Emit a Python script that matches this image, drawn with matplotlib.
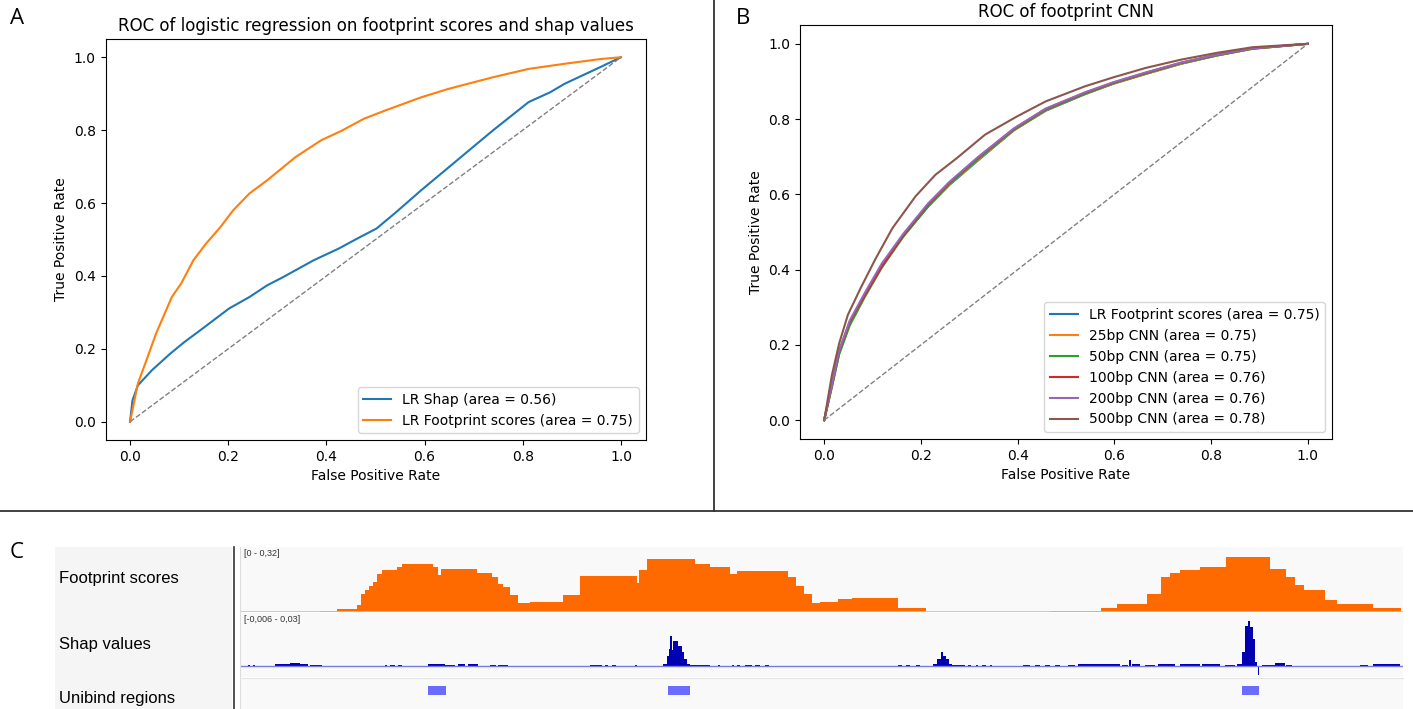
import numpy as np
import matplotlib
matplotlib.use('Agg')
from matplotlib import pyplot as plt
from matplotlib.patches import Rectangle
from matplotlib.lines import Line2D

# ---- panel A: logistic regression ROC
fpr_shap = [0, 0.005, 0.016, 0.045, 0.082, 0.111, 0.148, 0.202, 0.243, 0.279, 0.312, 0.374,
            0.425, 0.469, 0.502, 0.542, 0.593, 0.666, 0.739, 0.812, 0.856, 0.885, 0.958, 1.0]
tpr_shap = [0, 0.059, 0.100, 0.142, 0.187, 0.219, 0.256, 0.311, 0.342, 0.374, 0.397, 0.443,
            0.475, 0.507, 0.530, 0.575, 0.635, 0.717, 0.799, 0.877, 0.904, 0.927, 0.973, 1.0]
fpr_fp = [0, 0.016, 0.031, 0.053, 0.085, 0.104, 0.129, 0.155, 0.184, 0.210, 0.243, 0.279,
          0.337, 0.389, 0.432, 0.476, 0.520, 0.593, 0.648, 0.739, 0.812, 0.885, 0.958, 1.0]
tpr_fp = [0, 0.105, 0.160, 0.242, 0.342, 0.379, 0.443, 0.489, 0.534, 0.580, 0.626, 0.662,
          0.726, 0.772, 0.799, 0.831, 0.854, 0.890, 0.913, 0.945, 0.968, 0.982, 0.995, 1.0]
labels_a = ['LR Shap (area = 0.56)', 'LR Footprint scores (area = 0.75)']

# ---- panel B: CNN ROC
fpr_cnn = [0, 0.016, 0.031, 0.053, 0.083, 0.119, 0.164, 0.215, 0.259, 0.318, 0.392, 0.458,
           0.539, 0.598, 0.665, 0.738, 0.812, 0.886, 1.0]
tpr_lr = [0, 0.090, 0.178, 0.258, 0.330, 0.410, 0.490, 0.568, 0.625, 0.690, 0.770, 0.822,
          0.866, 0.894, 0.920, 0.947, 0.969, 0.987, 1.0]
tpr_25 = [0, 0.092, 0.180, 0.259, 0.331, 0.411, 0.490, 0.570, 0.626, 0.692, 0.770, 0.823,
          0.867, 0.894, 0.920, 0.947, 0.969, 0.987, 1.0]
tpr_50 = [0, 0.088, 0.175, 0.252, 0.325, 0.405, 0.488, 0.568, 0.627, 0.694, 0.771, 0.824,
          0.867, 0.895, 0.921, 0.948, 0.969, 0.987, 1.0]
tpr_100 = [0, 0.095, 0.184, 0.262, 0.330, 0.408, 0.492, 0.574, 0.632, 0.698, 0.774, 0.827,
           0.870, 0.897, 0.923, 0.950, 0.971, 0.988, 1.0]
tpr_200 = [0, 0.095, 0.185, 0.265, 0.336, 0.416, 0.496, 0.576, 0.633, 0.699, 0.775, 0.828,
           0.871, 0.898, 0.924, 0.950, 0.971, 0.988, 1.0]
fpr_500 = [0, 0.016, 0.031, 0.049, 0.075, 0.105, 0.141, 0.189, 0.230, 0.274, 0.333, 0.400,
           0.458, 0.539, 0.598, 0.665, 0.738, 0.812, 0.886, 1.0]
tpr_500 = [0, 0.120, 0.204, 0.280, 0.350, 0.426, 0.510, 0.595, 0.652, 0.696, 0.759, 0.808,
           0.847, 0.887, 0.911, 0.936, 0.958, 0.976, 0.991, 1.0]
labels_b = ['LR Footprint scores (area = 0.75)', '25bp CNN (area = 0.75)', '50bp CNN (area = 0.75)',
            '100bp CNN (area = 0.76)', '200bp CNN (area = 0.76)', '500bp CNN (area = 0.78)']

# ---- panel C: genome browser tracks (track position 0..1163)
fp_start = [0, 80, 97, 117, 121, 125, 129, 133, 137, 142, 157, 162, 193, 198, 201, 237, 252, 258,
            263, 270, 278, 290, 323, 340, 397, 399, 407, 455, 470, 490, 497, 548, 556, 564, 572,
            580, 598, 612, 658, 686, 810, 861, 877, 907, 921, 930, 940, 960, 986, 1030, 1046,
            1055, 1064, 1085, 1097, 1133, 1161, 1163]
fp_value = [0, 0.005, 0.016, 0.033, 0.090, 0.107, 0.128, 0.148, 0.189, 0.208, 0.222, 0.235, 0.222,
            0.181, 0.210, 0.194, 0.172, 0.139, 0.123, 0.082, 0.044, 0.049, 0.082, 0.177, 0.143,
            0.205, 0.259, 0.238, 0.222, 0.189, 0.200, 0.170, 0.130, 0.090, 0.045, 0.049, 0.066,
            0.071, 0.021, 0, 0.005, 0.020, 0.041, 0.090, 0.172, 0.190, 0.208, 0.222, 0.271, 0.213,
            0.172, 0.131, 0.107, 0.057, 0.038, 0.021, 0, 0]

shap_start = [8, 13, 20, 35, 50, 60, 70, 145, 150, 158, 188, 205, 218, 228, 250, 258, 350, 365, 372,
              395, 423, 427, 429, 430, 431.5, 433, 438, 442, 444, 447, 450, 478, 492, 497, 505, 515,
              525, 658, 666, 676, 693, 697, 701, 702.5, 706, 709, 712, 728, 736, 742, 750, 783, 795,
              805, 815, 828, 838, 882, 889, 892, 905, 918, 940, 962, 985, 997, 1000, 1002, 1005,
              1007.5, 1010, 1012.5, 1014.5, 1017.5, 1022, 1035, 1046, 1120, 1133]
shap_end = [10, 15, 21, 50, 60, 68, 82, 147, 155, 162, 205, 215, 225, 238, 256, 268, 362, 368, 376,
            397, 427, 429, 430, 431.5, 433, 438, 442, 444, 447, 450, 470, 480, 494, 500, 512, 520,
            529, 662, 670, 680, 697, 701, 702.5, 706, 709, 712, 725, 731, 738, 746, 752, 790, 800,
            810, 820, 835, 880, 888, 891, 900, 915, 935, 960, 980, 995, 1000, 1002, 1005, 1007.5,
            1010, 1012.5, 1014.5, 1016.5, 1019, 1035, 1045, 1052, 1128, 1160]
shap_value = [0.0006, 0.0006, 0.0004, 0.0012, 0.0018, 0.0012, 0.0010, 0.0008, 0.0008, 0.0006,
              0.0015, 0.0010, 0.0015, 0.0012, 0.0008, 0.0008, 0.0010, 0.0008, 0.0008, 0.0008,
              0.0015, 0.0060, 0.0099, 0.0173, 0.0090, 0.0145, 0.0117, 0.0080, 0.0043, 0.0015,
              0.0010, 0.0005, 0.0005, 0.0006, 0.0008, 0.0008, 0.0008, 0.0005, 0.0005, 0.0008,
              0.0015, 0.0043, 0.0080, 0.0058, 0.0040, 0.0015, 0.0010, 0.0006, 0.0006, 0.0006,
              0.0005, 0.0008, 0.0008, 0.0008, 0.0008, 0.0010, 0.0015, 0.0010, 0.0035, 0.0012,
              0.0010, 0.0012, 0.0015, 0.0012, 0.0010, 0.0015, 0.0015, 0.0080, 0.0229, 0.0257,
              0.0220, 0.0155, 0.0024, -0.0047, 0.0010, 0.0018, 0.0010, 0.0008, 0.0012]

unibind_start = [188, 428, 1002]
unibind_end = [206, 450, 1019]

track_names = ['Footprint scores', 'Shap values', 'Unibind regions']
fp_range = '[0 - 0,32]'
shap_range = '[-0,006 - 0,03]'

W, H = 1413, 709


def box(x0, y0, x1, y1):
    # pixel box (top-left origin) -> figure fraction
    return [x0 / W, 1 - y1 / H, (x1 - x0) / W, (y1 - y0) / H]


fig = plt.figure(figsize=(W / 100, H / 100), dpi=100)

# panel A
axA = fig.add_axes(box(105.5, 39, 645.5, 440))
axA.plot(fpr_shap, tpr_shap, color='C0', lw=1.5, label=labels_a[0])
axA.plot(fpr_fp, tpr_fp, color='C1', lw=1.5, label=labels_a[1])
axA.plot([0, 1], [0, 1], color='gray', ls='--', lw=1)
axA.set_xlim(-0.05, 1.05)
axA.set_ylim(-0.05, 1.05)
axA.set_xlabel('False Positive Rate')
axA.set_ylabel('True Positive Rate')
axA.set_title('ROC of logistic regression on footprint scores and shap values', fontsize=12)
axA.legend(loc='lower right')

# panel B
axB = fig.add_axes(box(800, 25, 1332, 439))
for i, tpr in enumerate([tpr_lr, tpr_25, tpr_50, tpr_100, tpr_200]):
    axB.plot(fpr_cnn, tpr, color='C%d' % i, lw=1.5, label=labels_b[i])
axB.plot(fpr_500, tpr_500, color='C5', lw=1.5, label=labels_b[5])
axB.plot([0, 1], [0, 1], color='gray', ls='--', lw=1)
axB.set_xlim(-0.05, 1.05)
axB.set_ylim(-0.05, 1.05)
axB.set_xlabel('False Positive Rate')
axB.set_ylabel('True Positive Rate')
axB.set_title('ROC of footprint CNN', fontsize=12)
axB.legend(loc='lower right')

# divider lines
fig.add_artist(Line2D([714 / W, 714 / W], [1, 1 - 511 / H], color='#333333', lw=1.3))
fig.add_artist(Line2D([0, 1], [1 - 511 / H, 1 - 511 / H], color='#333333', lw=1.3))

# panel letters
for letter, (px, py) in zip('ABC', [(10, 19), (736, 19), (10, 552)]):
    fig.text(px / W, 1 - py / H, letter, fontsize=16, family='Open Sans', va='center')

# panel C: label column and tracks
fig.add_artist(Rectangle((55 / W, 0), (232 - 55) / W, (H - 547) / H,
                         transform=fig.transFigure, color='#f5f5f5', lw=0))
fig.add_artist(Line2D([234 / W, 234 / W], [0, 1 - 547 / H], color='#333333', lw=1.2))
fig.add_artist(Line2D([240 / W, 240 / W], [0, 1 - 547 / H], color='#dddddd', lw=0.8))

track_len = fp_start[-1]

axF = fig.add_axes(box(240.5, 547, 1403, 612))
axF.fill_between(fp_start, fp_value, step='post', color='#ff6a00', lw=0)
axF.axhline(0, color='#ffb07a', lw=1.2)
axF.set_ylim(0, 0.32)

axS = fig.add_axes(box(240.5, 613, 1403, 677))
widths = np.array(shap_end) - np.array(shap_start)
axS.bar(shap_start, shap_value, width=widths, align='edge', color='#0000b2', lw=0)
axS.axhline(0, color='#7a7ae6', lw=1)
axS.set_ylim(-0.006, 0.03)

axU = fig.add_axes(box(240.5, 678, 1403, 709))
uw = np.array(unibind_end) - np.array(unibind_start)
axU.bar(unibind_start, 0.3, width=uw, bottom=0.45, align='edge', color='#6b6bff', lw=0)
axU.set_ylim(0, 1)

for ax in (axF, axS, axU):
    ax.set_xlim(0, track_len)
    ax.set_facecolor('#f9f9f9')
    ax.set_xticks([])
    ax.set_yticks([])
    for s in ax.spines.values():
        s.set_visible(False)

fig.add_artist(Line2D([240 / W, 1403 / W], [1 - 677.5 / H] * 2, color='#e6e6e6', lw=0.8))

for name, py in zip(track_names, [578, 644, 699]):
    fig.text(59 / W, 1 - py / H, name, fontsize=12, family='Liberation Sans', va='center')
fig.text(244 / W, 1 - 553 / H, fp_range, fontsize=6.5, family='Liberation Sans', va='center', color='#333333')
fig.text(244 / W, 1 - 620 / H, shap_range, fontsize=6.5, family='Liberation Sans', va='center', color='#333333')

fig.savefig('out.png', dpi=100)
